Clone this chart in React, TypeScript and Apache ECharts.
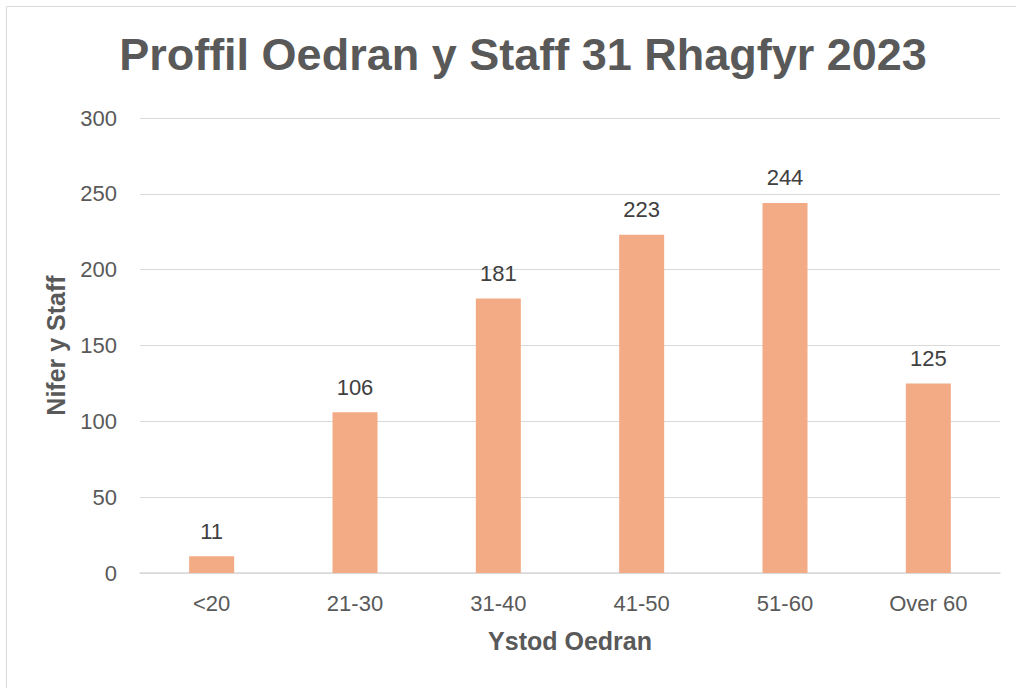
import React, { useEffect, useRef } from "react";
import * as echarts from "echarts";

const categories = ["<20", "21-30", "31-40", "41-50", "51-60", "Over 60"];
const staffCounts = [11, 106, 181, 223, 244, 125];
const yTicks = { min: 0, max: 300, interval: 50 };
const titleText = "Proffil Oedran y Staff 31 Rhagfyr 2023";
const xAxisName = "Ystod Oedran";
const yAxisName = "Nifer y Staff";

export default function App() {
  const ref = useRef<HTMLDivElement>(null);
  useEffect(() => {
    if (!ref.current) return;
    const chart = echarts.init(ref.current, null, { renderer: "svg" });
    const font = "'Liberation Sans', Arial, sans-serif";
    chart.setOption({
      animation: false,
      backgroundColor: "#ffffff",
      textStyle: { fontFamily: font },
      title: {
        text: titleText,
        left: 518,
        textAlign: "center",
        top: 27,
        textStyle: { fontSize: 45, fontWeight: "bold", color: "#595959", fontFamily: font },
      },
      graphic: [
        {
          type: "rect",
          shape: { x: 6.5, y: 6.5, width: 1020, height: 700 },
          style: { fill: "none", stroke: "#d9d9d9", lineWidth: 1 },
          silent: true,
        },
      ],
      grid: { left: 140, right: 16, top: 118, bottom: 115 },
      xAxis: {
        type: "category",
        data: categories,
        name: xAxisName,
        nameLocation: "middle",
        nameGap: 55,
        nameTextStyle: { fontSize: 25, fontWeight: "bold", color: "#595959" },
        axisLine: { lineStyle: { color: "#d9d9d9", width: 1.5 } },
        axisTick: { show: false },
        axisLabel: { fontSize: 22, color: "#595959", margin: 19 },
      },
      yAxis: {
        type: "value",
        min: yTicks.min,
        max: yTicks.max,
        interval: yTicks.interval,
        name: yAxisName,
        nameLocation: "middle",
        nameGap: 72,
        nameTextStyle: { fontSize: 25, fontWeight: "bold", color: "#595959" },
        axisLine: { show: false },
        axisTick: { show: false },
        axisLabel: { fontSize: 22, color: "#595959", margin: 23 },
        splitLine: { lineStyle: { color: "#d9d9d9", width: 1 } },
      },
      series: [
        {
          type: "bar",
          data: staffCounts,
          barWidth: 45,
          itemStyle: { color: "#F2AB84" },
          label: {
            show: true,
            position: "top",
            distance: 14,
            fontSize: 22,
            color: "#404040",
          },
        },
      ],
    });
    return () => chart.dispose();
  }, []);
  return (
    <div
      ref={ref}
      style={{ position: "absolute", left: 0, top: 0, width: 1016, height: 688 }}
    />
  );
}
